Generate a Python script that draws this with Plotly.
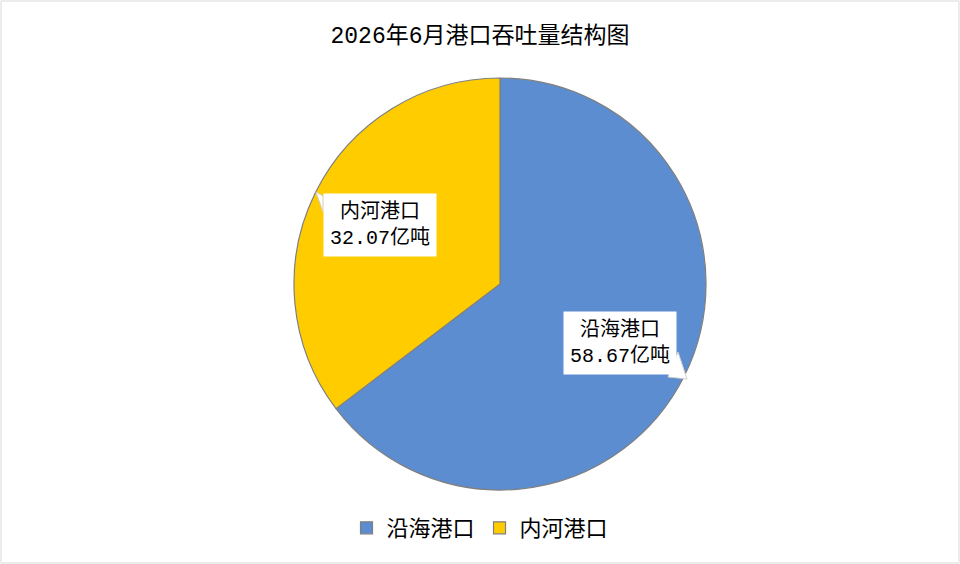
import plotly.graph_objects as go

categories = ["沿海港口", "内河港口"]
values = [58.67, 32.07]
unit = "亿吨"
colors = ["#5B8DD0", "#FFCC00"]
title_text = "2026年6月港口吞吐量结构图"

W, H = 960, 564
FONT = "Liberation Mono, Noto Sans CJK SC, sans-serif"

def px(x):
    return x / W

def py(y):
    return 1 - y / H

fig = go.Figure()
fig.add_trace(go.Pie(
    labels=categories,
    values=values,
    sort=False,
    direction="clockwise",
    rotation=0,
    marker=dict(colors=colors, line=dict(color="#7F7F7F", width=1.2)),
    textinfo="none",
    hoverinfo="label+value",
    domain=dict(x=[px(293), px(707)], y=[py(490), py(78)]),
))

# data label callouts
label_pos = [(620, 343), (380, 225)]
for (cx, cy), cat, val in zip(label_pos, categories, values):
    fig.add_annotation(
        x=px(cx), y=py(cy), xref="paper", yref="paper",
        text=f"{cat}<br>{val:.2f}{unit}",
        showarrow=False,
        font=dict(family=FONT, size=20, color="#000000"),
        bgcolor="#FFFFFF",
        borderpad=6,
        align="center",
    )

# callout pointers
pointers = [
    [(678, 352), (687, 379), (668, 377)],
    [(323, 196), (316, 192), (323, 212)],
]
for pts in pointers:
    path = "M " + " L ".join(f"{px(x)} {py(y)}" for x, y in pts) + " Z"
    fig.add_shape(type="path", path=path, xref="paper", yref="paper",
                  fillcolor="#FFFFFF", line=dict(color="#D0D0D0", width=1))

# outer chart border
fig.add_shape(type="rect", x0=px(1), y0=py(563), x1=px(959), y1=py(1),
              xref="paper", yref="paper", line=dict(color="#D9D9D9", width=1))

fig.update_layout(
    width=W, height=H,
    margin=dict(l=0, r=0, t=0, b=0),
    paper_bgcolor="#FFFFFF",
    plot_bgcolor="#FFFFFF",
    title=dict(text=title_text, x=0.5, xanchor="center",
               y=py(35), yanchor="middle", yref="container",
               font=dict(family=FONT, size=23, color="#000000")),
    showlegend=True,
    legend=dict(orientation="h", x=0.5, xanchor="center", y=py(528), yanchor="middle",
                font=dict(family=FONT, size=22, color="#000000"),
                itemwidth=30, traceorder="normal"),
)

fig.write_html("out.html", config={"displayModeBar": False},
               post_script="document.body.style.margin='0';document.body.style.overflow='hidden';")
